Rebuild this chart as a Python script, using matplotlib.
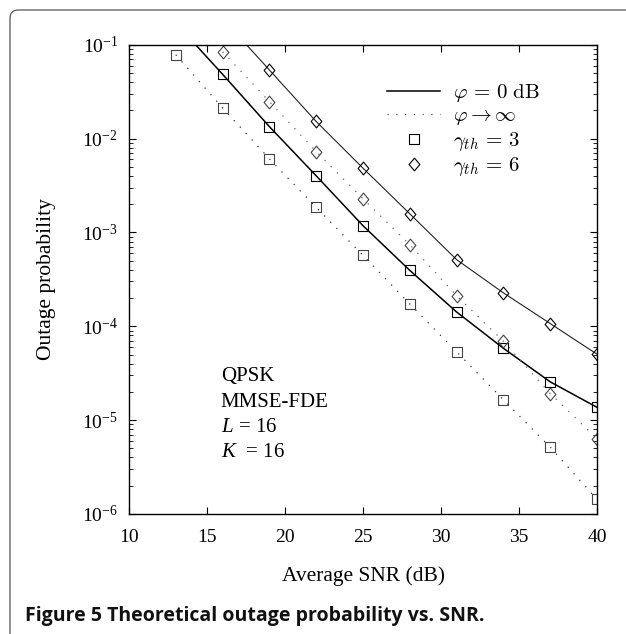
import matplotlib
matplotlib.use("Agg")
import matplotlib.pyplot as plt
from matplotlib.path import Path
from matplotlib.font_manager import FontProperties
from matplotlib.patches import FancyBboxPatch
from matplotlib.lines import Line2D
import numpy as np

# ---------------- data ----------------
snr_marks = [13, 16, 19, 22, 25, 28, 31, 34, 37, 40]

# phi = 0 dB, gamma_th = 3  (solid)
snr_g3_phi0_line = [13, 16, 19, 22, 25, 28, 31, 34, 37, 40]
out_g3_phi0_line = [1.7e-1, 4.84e-2, 1.34e-2, 4.01e-3, 1.18e-3, 3.94e-4, 1.42e-4, 5.83e-5, 2.56e-5, 1.37e-5]
snr_g3_phi0 = [16, 19, 22, 25, 28, 31, 34, 37, 40]
out_g3_phi0 = [4.84e-2, 1.34e-2, 4.01e-3, 1.18e-3, 3.94e-4, 1.42e-4, 5.83e-5, 2.56e-5, 1.37e-5]

# phi = 0 dB, gamma_th = 6  (solid)
snr_g6_phi0_line = [16, 19, 22, 25, 28, 31, 34, 37, 40]
out_g6_phi0_line = [1.9e-1, 5.38e-2, 1.52e-2, 4.84e-3, 1.58e-3, 5.13e-4, 2.27e-4, 1.07e-4, 5.04e-5]
snr_g6_phi0 = [19, 22, 25, 28, 31, 34, 37, 40]
out_g6_phi0 = [5.38e-2, 1.52e-2, 4.84e-3, 1.58e-3, 5.13e-4, 2.27e-4, 1.07e-4, 5.04e-5]

# phi -> infinity, gamma_th = 3 (dotted)
snr_g3_inf = [13, 16, 19, 22, 25, 28, 31, 34, 37, 40]
out_g3_inf = [7.8e-2, 2.12e-2, 6.08e-3, 1.85e-3, 5.69e-4, 1.73e-4, 5.35e-5, 1.65e-5, 5.16e-6, 1.43e-6]

# phi -> infinity, gamma_th = 6 (dotted)
snr_g6_inf = [16, 19, 22, 25, 28, 31, 34, 37, 40]
out_g6_inf = [8.4e-2, 2.48e-2, 7.28e-3, 2.28e-3, 7.4e-4, 2.12e-4, 6.92e-5, 1.92e-5, 6.34e-6]

x_ticks = [10, 15, 20, 25, 30, 35, 40]
y_ticks = [1e-6, 1e-5, 1e-4, 1e-3, 1e-2, 1e-1]

legend_labels = [r'$\varphi\, =\, 0\ \mathrm{dB}$', r'$\varphi \rightarrow \infty$',
                 r'$\gamma_{th}\, =\, 3$', r'$\gamma_{th}\, =\, 6$']
info_lines = ['QPSK', 'MMSE-FDE', r'$L$ = 16', r'$K$  = 16']
caption_bold = 'Figure 5 Theoretical outage probability vs. SNR.'

# ---------------- style ----------------
plt.rcParams['font.family'] = ['Liberation Serif', 'DejaVu Serif']
plt.rcParams['mathtext.fontset'] = 'custom'
plt.rcParams['mathtext.rm'] = 'Liberation Serif'
plt.rcParams['mathtext.it'] = 'Liberation Serif:italic'
plt.rcParams['mathtext.bf'] = 'Liberation Serif:bold'

sq = Path([(-1, -1), (1, -1), (1, 1), (-1, 1), (-1, -1)],
          [Path.MOVETO, Path.LINETO, Path.LINETO, Path.LINETO, Path.CLOSEPOLY])
dm = Path([(0, 1), (0.84, 0), (0, -1), (-0.84, 0), (0, 1)],
          [Path.MOVETO, Path.LINETO, Path.LINETO, Path.LINETO, Path.CLOSEPOLY])

fig = plt.figure(figsize=(6.26, 6.34), dpi=100)
ax = fig.add_axes([129/626, 1-514/634, (597-129)/626, (514-44.7)/634])

dot = (0, (1, 6))
mk_sq = dict(marker=sq, markersize=7.2, mfc='none', mew=0.8, ls='none')
mk_dm = dict(marker=dm, markersize=9.2, mfc='none', mew=0.8, ls='none')

ax.plot(snr_g3_phi0_line, out_g3_phi0_line, color='black', lw=1.1)
ax.plot(snr_g6_phi0_line, out_g6_phi0_line, color='#222222', lw=0.8)
ax.plot(snr_g3_inf, out_g3_inf, color='#333333', lw=0.9, ls=dot)
ax.plot(snr_g6_inf, out_g6_inf, color='#666666', lw=0.9, ls=dot)

ax.plot(snr_g3_phi0, out_g3_phi0, mec='black', **mk_sq)
ax.plot(snr_g3_inf, out_g3_inf, mec='#444444', **mk_sq)
ax.plot(snr_g6_phi0, out_g6_phi0, mec='black', **mk_dm)
ax.plot(snr_g6_inf, out_g6_inf, mec='#444444', **mk_dm)

ax.set_yscale('log')
ax.set_xlim(10, 40)
ax.set_ylim(1e-6, 1e-1)
ax.set_xticks(x_ticks)
ax.set_xticklabels([str(t) for t in x_ticks])
ax.set_yticks(y_ticks)
ax.tick_params(which='both', direction='in', top=True, right=True, colors='black')
ax.tick_params(which='major', length=5, width=0.8, labelsize=14)
ax.tick_params(which='minor', length=3, width=0.6)
ax.tick_params(axis='x', pad=11)
ax.tick_params(axis='y', pad=8)
for s in ax.spines.values():
    s.set_linewidth(1.0)

ax.set_xlabel('Average SNR (dB)', fontsize=15.5, va='center')
ax.xaxis.set_label_coords(0.5, (514-576)/469.3)
ax.set_ylabel('Outage probability', fontsize=15.5, va='center')
ax.yaxis.set_label_coords((46.5-129)/468, 0.5)

# legend
handles = [Line2D([], [], color='black', lw=1.1),
           Line2D([], [], color='#555555', lw=0.9, ls=dot),
           Line2D([], [], marker=sq, markersize=7.2, mfc='none', mec='black', mew=0.8, ls='none'),
           Line2D([], [], marker=dm, markersize=9.2, mfc='none', mec='black', mew=0.8, ls='none')]
lp = FontProperties(family='Liberation Serif', size=15, math_fontfamily='cm')
leg = ax.legend(handles, legend_labels, prop=lp, loc='upper left',
                bbox_to_anchor=((381-129)/468, (514-76)/469.3),
                frameon=True, fancybox=False, edgecolor='none', facecolor='white',
                framealpha=1, handlelength=2.55, handletextpad=0.6,
                labelspacing=0.12, borderpad=0.3, borderaxespad=0)

# info text
info_base = [381, 407, 432, 457]
for txt, b in zip(info_lines, info_base):
    ax.text((220.7-129)/468, (514-b)/469.3, txt, transform=ax.transAxes,
            fontsize=15, va='baseline', ha='left')

# figure frame (left + top with rounded corner)
frame = FancyBboxPatch((10/626, -0.2), 1.3, 0.2 + (634-10)/634,
                       boxstyle='round,pad=0,rounding_size=0.013',
                       transform=fig.transFigure, facecolor='none',
                       edgecolor='#555555', lw=0.9, clip_on=False)
fig.patches.append(frame)

fig.text(25/626, (634-621)/634, caption_bold, fontsize=14, fontweight='bold',
         family=['Open Sans', 'DejaVu Sans'], color='#111111', va='baseline', ha='left')

fig.savefig('out.png', dpi=100)
